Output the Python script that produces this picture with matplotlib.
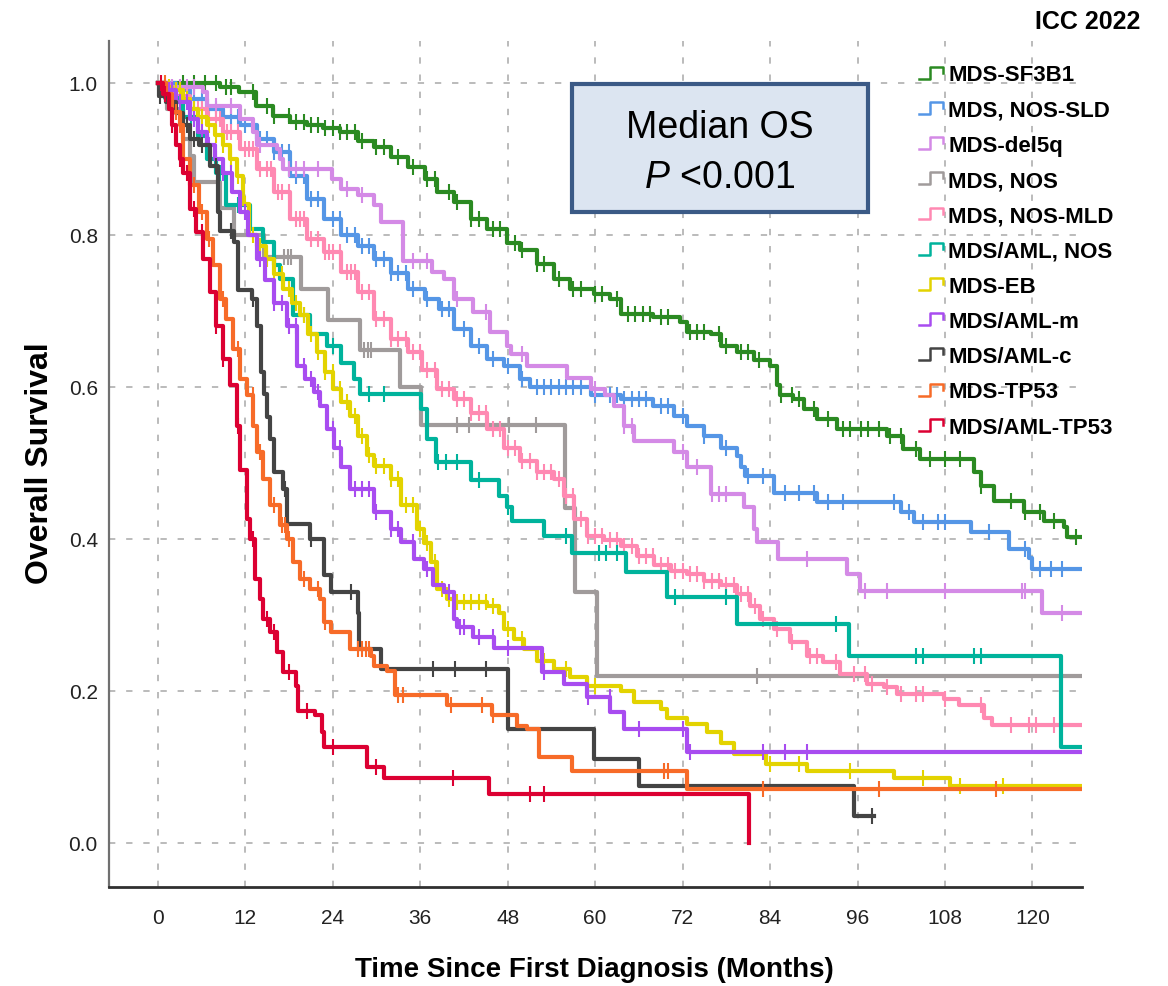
import numpy as np
import matplotlib
matplotlib.use("Agg")
import matplotlib.pyplot as plt
from matplotlib.lines import Line2D
from matplotlib.patches import Rectangle
from matplotlib.legend_handler import HandlerBase
from matplotlib import font_manager

plt.rcParams['font.family'] = ['Liberation Sans', 'DejaVu Sans']
plt.rcParams['mathtext.fontset'] = 'custom'
plt.rcParams['mathtext.it'] = 'Liberation Sans:italic'
plt.rcParams['mathtext.rm'] = 'Liberation Sans'

installed = {f.name for f in font_manager.fontManager.ttflist}
narrow = 'Liberation Sans Narrow' if 'Liberation Sans Narrow' in installed else 'Liberation Sans'

# Kaplan-Meier estimates: event times (months) and survival after each event
sf3b1_t = [8.5, 11.2, 13.5, 15.8, 18.1, 20.4, 22.7, 25, 27.4, 29.7, 32, 34.3, 36.6, 38.3, 40.6, 42.9,
           45.2, 47.9, 49.7, 52, 54.3, 56.6, 59.8, 62.1, 63.5, 68, 71.7, 72.6, 75.9, 77.2, 79.5, 81.8,
           84, 84.9, 85.4, 87.2, 88.6, 90.4, 93.2, 100, 102.3, 104.6, 112, 112.9, 114.7, 118.8, 121.6,
           124.3, 124.8]
sf3b1_s = [0.995, 0.988, 0.97, 0.957, 0.948, 0.944, 0.94, 0.935, 0.924, 0.915, 0.902, 0.889, 0.874,
           0.856, 0.843, 0.821, 0.808, 0.789, 0.78, 0.762, 0.742, 0.729, 0.722, 0.716, 0.696, 0.692,
           0.685, 0.672, 0.67, 0.654, 0.646, 0.635, 0.628, 0.602, 0.589, 0.584, 0.571, 0.558, 0.545,
           0.536, 0.518, 0.505, 0.488, 0.47, 0.45, 0.435, 0.424, 0.415, 0.402]
sf3b1_c = [3.4, 5, 6.5, 8, 9.4, 10, 13, 15, 16, 18, 19, 20, 21, 22, 23, 24, 25, 26, 27, 28, 30, 31,
           33, 35, 37, 38, 40, 41, 43, 44, 46, 47, 49, 50, 52, 53, 55, 57, 58, 60, 61, 63, 64.5, 65.5,
           66.5, 67.5, 69, 70, 73, 74, 75, 77, 78, 80, 81, 82.5, 85.5, 87, 88, 90, 92, 94, 95, 96.5,
           97.5, 99, 100.5, 102, 104, 106, 108, 110, 113, 117, 119, 121, 123, 126]

sld_t = [2.5, 4.4, 6.7, 9, 11.3, 13.6, 15.9, 18.1, 20.5, 22.8, 25.1, 27.4, 29.7, 32, 34.3, 36.6,
         38.6, 40.6, 42.9, 45.2, 47.5, 49.7, 51.1, 59.4, 63.5, 68, 70.8, 72.6, 74.9, 77.2, 79.5, 80,
         80.5, 84.5, 90.4, 101.9, 103.7, 111.5, 116.8, 119.5, 119.9]
sld_s = [0.99, 0.979, 0.966, 0.955, 0.944, 0.926, 0.909, 0.878, 0.847, 0.821, 0.8, 0.786, 0.768,
         0.75, 0.729, 0.716, 0.703, 0.676, 0.654, 0.637, 0.628, 0.61, 0.6, 0.589, 0.584, 0.575, 0.562,
         0.549, 0.535, 0.52, 0.509, 0.495, 0.483, 0.461, 0.448, 0.435, 0.422, 0.409, 0.387, 0.375, 0.36]
sld_c = [3, 4, 5, 6, 8, 9, 10, 11, 12, 13, 14, 15, 16, 17, 18, 19, 20, 21, 22, 24, 25, 26, 27, 28,
         29, 30, 31, 32, 33, 34, 35, 37, 39, 40, 42, 44, 46, 48, 50, 52, 53, 54, 55, 56, 57, 58, 60,
         62, 63, 64, 65, 66, 67, 69, 70, 72, 75, 78, 81, 83, 86, 88, 90, 92, 94, 101, 103, 105, 107,
         108, 114, 119, 121, 122.5, 124]

del5q_t = [1.5, 6.2, 6.7, 11.3, 13.1, 13.6, 16.3, 16.8, 17.2, 23.9, 25.1, 27.4, 29.7, 30.6, 33.6,
           37.6, 39.2, 40.6, 43.3, 45.6, 47.9, 48.4, 50.7, 56.2, 59.4, 61.4, 62.6, 63.9, 65.3, 70.8,
           72.6, 75.9, 80.4, 81.8, 82.2, 85.1, 94.5, 96.4, 121.3]
del5q_s = [0.995, 0.988, 0.97, 0.953, 0.935, 0.918, 0.913, 0.9, 0.887, 0.874, 0.86, 0.852, 0.839,
           0.817, 0.766, 0.751, 0.742, 0.716, 0.698, 0.672, 0.654, 0.643, 0.628, 0.612, 0.597, 0.589,
           0.575, 0.549, 0.529, 0.514, 0.494, 0.459, 0.442, 0.413, 0.396, 0.374, 0.354, 0.332, 0.303]
del5q_c = [2, 3, 4, 5, 8, 10, 14, 18, 19, 20, 22, 26, 28, 35, 37, 41, 45, 50, 60, 64, 65, 72, 74, 76,
           77, 78, 89, 97, 100, 108, 118.5, 119, 124]

nos_t = [1.2, 3.4, 4.4, 5.0, 8.6, 10.4, 14.6, 19.6, 23.3, 27.8, 33.2, 36.1, 55.8, 57.3, 60.3]
nos_s = [0.966, 0.926, 0.904, 0.869, 0.835, 0.8, 0.771, 0.729, 0.688, 0.648, 0.6, 0.55, 0.44, 0.33, 0.219]
nos_c = [17.3, 17.8, 18.3, 28.3, 28.8, 29.2, 41, 42.7, 48.2, 51.9, 82.2]

mld_t = [0.5, 2, 4.4, 6.7, 9, 11.3, 13.6, 15.9, 18.2, 20.5, 22.8, 25.1, 27.4, 29.7, 32, 34.3, 36.3,
         38.3, 40.6, 42.9, 45.2, 47.5, 49.7, 52, 54.3, 55.7, 57.1, 58.9, 61.2, 63.5, 65.8, 68.1, 70.4,
         72.6, 74.9, 77.2, 79.5, 81.3, 82.6, 84.5, 86.7, 89, 91.3, 93.6, 97.3, 99.6, 101.4, 107.8,
         109.9, 113.4, 114.5]
mld_s = [0.995, 0.983, 0.966, 0.953, 0.935, 0.913, 0.887, 0.856, 0.821, 0.795, 0.777, 0.751, 0.725,
         0.689, 0.663, 0.646, 0.622, 0.597, 0.584, 0.566, 0.545, 0.52, 0.503, 0.488, 0.479, 0.457,
         0.426, 0.404, 0.398, 0.391, 0.378, 0.365, 0.358, 0.354, 0.345, 0.339, 0.328, 0.312, 0.295,
         0.282, 0.264, 0.246, 0.238, 0.222, 0.209, 0.205, 0.196, 0.189, 0.181, 0.165, 0.155]
mld_c = [1, 2.5, 3, 4, 5, 5.5, 6, 7, 8, 8.5, 9.5, 10, 11, 12, 12.5, 13, 14, 15, 15.5, 16.5, 17, 18,
         19, 19.5, 20, 21, 22, 23, 23.5, 24, 25, 26, 26.5, 27, 28, 29, 30, 31, 32, 33, 34, 35, 36,
         37, 38, 39, 40, 41, 42, 43, 44, 45, 46, 47, 48, 49, 50, 51, 52, 53, 54, 55, 56, 57, 58, 59,
         60, 61, 62, 63, 64, 65, 66, 67, 68, 69, 70, 71, 72, 73, 74, 75, 76, 77, 78, 79, 80, 81, 82,
         83, 85, 87, 89.5, 90.5, 93, 95.5, 97, 98, 100, 102, 104, 105, 108, 113, 117, 119.5, 120.5, 123]

amlnos_t = [1.0, 3.5, 5.5, 6.7, 8, 9.4, 12.6, 14.5, 15.9, 16.8, 18.6, 20.9, 23.2, 25.1, 26.9, 27.8,
            36.1, 37, 38.1, 42.9, 46.8, 47.9, 48.6, 53, 56.8, 64.2, 69.9, 79.5, 94.8, 123.9]
amlnos_s = [0.98, 0.955, 0.93, 0.9, 0.882, 0.839, 0.808, 0.79, 0.76, 0.742, 0.694, 0.67, 0.654,
            0.632, 0.61, 0.591, 0.571, 0.532, 0.501, 0.477, 0.457, 0.442, 0.424, 0.404, 0.382,
            0.356, 0.323, 0.288, 0.246, 0.126]
amlnos_c = [1.5, 3, 4.5, 8.5, 11, 20, 24, 29, 31, 38.5, 39.5, 41, 44, 48, 56, 60.5, 61.5, 63, 71,
            78, 93, 104, 105, 112, 113]

eb_t = [1, 2, 3.4, 4.4, 5.5, 6.7, 7.8, 9, 9.9, 10.8, 11.7, 12.5, 13.6, 14.9, 16, 17.2, 18.4, 19.5,
        20.6, 21.8, 23, 24.1, 25.2, 26.4, 27.5, 28.7, 29.7, 32, 33.3, 35.6, 36.5, 37.5, 38.3, 39.7,
        40.6, 45.2, 46.8, 47.5, 48.8, 50.2, 52, 54.3, 56.6, 58.9, 63.5, 65.3, 69, 69.9, 72.6, 75.4,
        77.2, 79.1, 83.5, 89, 101, 108.7]
eb_s = [0.995, 0.99, 0.979, 0.966, 0.955, 0.944, 0.931, 0.918, 0.9, 0.878, 0.84, 0.8, 0.785, 0.768,
        0.748, 0.729, 0.71, 0.694, 0.67, 0.646, 0.62, 0.597, 0.58, 0.562, 0.536, 0.51, 0.496, 0.479,
        0.444, 0.413, 0.395, 0.37, 0.334, 0.321, 0.317, 0.312, 0.303, 0.282, 0.268, 0.255, 0.24,
        0.229, 0.218, 0.207, 0.2, 0.185, 0.176, 0.165, 0.157, 0.146, 0.132, 0.117, 0.104, 0.095,
        0.086, 0.075]
eb_c = [1.5, 2.5, 3, 4, 5, 6, 7, 8, 9, 10, 11, 12, 13, 14, 15, 16, 17, 18, 19, 20, 21, 22, 23, 24,
        25, 26, 27, 28, 29, 30, 31, 32, 33, 34, 35, 36, 37, 38, 39, 40, 41, 42, 43, 44, 45, 46, 48,
        50, 53, 56, 59, 60, 84, 88, 95, 105, 110, 116]

amlm_t = [1, 2.5, 4.4, 5.5, 6.7, 7.8, 9, 10.2, 11.3, 12.4, 13.6, 14.7, 15.9, 17.7, 19.1, 20.2, 21.4,
          22.3, 23.2, 24.2, 25.1, 26.4, 29.7, 32, 33.3, 35.2, 36.5, 37.8, 39.2, 40.6, 41, 43.3, 46.1,
          52.7, 55.7, 58.9, 62.1, 63.9, 72.6]
amlm_s = [0.99, 0.975, 0.953, 0.935, 0.918, 0.9, 0.882, 0.856, 0.83, 0.8, 0.768, 0.74, 0.711, 0.68,
          0.628, 0.61, 0.593, 0.575, 0.545, 0.52, 0.495, 0.466, 0.435, 0.413, 0.396, 0.374, 0.36,
          0.339, 0.33, 0.295, 0.284, 0.271, 0.257, 0.225, 0.209, 0.192, 0.172, 0.15, 0.119]
amlm_c = [1.5, 2, 3, 4, 5, 6, 7, 8, 9, 10, 12, 14, 16, 17, 18, 19, 20, 21, 22, 24, 25, 27, 28, 29,
          30, 32, 33, 35, 37, 40, 41.5, 42, 44, 46, 48, 53, 59, 62, 66, 72, 73, 83, 86, 89]

amlc_t = [0.2, 1.1, 2.5, 3.4, 4.4, 5.7, 7.1, 8.3, 8.6, 10.4, 11.0, 12.9, 13.6, 14.1, 14.6, 15.0,
          15.4, 15.9, 17.2, 17.7, 20.9, 22.8, 23.7, 27.4, 27.6, 30.6, 48.1, 59.8, 66, 95.5]
amlc_s = [0.983, 0.975, 0.96, 0.944, 0.926, 0.918, 0.891, 0.83, 0.805, 0.79, 0.727, 0.716, 0.68,
          0.62, 0.59, 0.56, 0.532, 0.488, 0.466, 0.42, 0.4, 0.352, 0.33, 0.303, 0.255, 0.229, 0.15,
          0.11, 0.075, 0.036]
amlc_c = [0.3, 4, 5, 6, 8, 10, 13, 17.5, 21, 26.5, 37.7, 40.8, 45, 98]

tp53_t = [1.1, 2, 3, 3.4, 4.4, 5.7, 6.7, 7.6, 8.5, 9.4, 10.3, 11.3, 12.2, 13.1, 13.6, 14.5, 15.4,
          16.8, 17.7, 18.6, 19.5, 20.9, 22.3, 22.8, 23.7, 26.4, 29.2, 29.7, 31.5, 32.6, 39.7, 45.8,
          49.3, 50.7, 52.3, 56.8, 72.6]
tp53_s = [0.985, 0.961, 0.944, 0.9, 0.865, 0.83, 0.795, 0.76, 0.716, 0.689, 0.65, 0.61, 0.589,
          0.549, 0.514, 0.479, 0.444, 0.418, 0.4, 0.369, 0.347, 0.334, 0.321, 0.29, 0.277, 0.255,
          0.246, 0.233, 0.226, 0.194, 0.181, 0.168, 0.154, 0.15, 0.113, 0.095, 0.071]
tp53_c = [1, 2.5, 3, 5, 6, 7, 9, 11, 13, 14, 16, 17, 17.5, 18, 20, 22, 23, 27.5, 28, 28.5, 29, 33,
          33.6, 40.2, 44.5, 46, 69.5, 70, 83, 99, 115]

amltp53_t = [0.7, 1.6, 2, 2.5, 3, 3.4, 4.4, 5.3, 6.2, 7.1, 8, 9, 9.9, 10.8, 11.3, 12.2, 12.6, 13.3,
             14, 14.5, 15.4, 16.3, 17.2, 18.9, 19.3, 21.6, 22.5, 22.8, 28.7, 31, 45.4, 81.1]
amltp53_s = [0.985, 0.966, 0.944, 0.918, 0.9, 0.882, 0.834, 0.804, 0.768, 0.725, 0.68, 0.637, 0.602,
             0.549, 0.49, 0.426, 0.4, 0.347, 0.321, 0.295, 0.277, 0.251, 0.225, 0.207, 0.174, 0.168,
             0.146, 0.126, 0.1, 0.086, 0.064, 0.0]
amltp53_c = [0.5, 1, 2, 3, 4, 5, 6, 8, 9, 11, 13, 15, 16, 18, 20.5, 24, 30, 40.5, 51, 53]

groups = [
    ("MDS-SF3B1", sf3b1_t, sf3b1_s, sf3b1_c, 127.0, "#2b8a22"),
    ("MDS, NOS-SLD", sld_t, sld_s, sld_c, 127.0, "#5596e6"),
    ("MDS-del5q", del5q_t, del5q_s, del5q_c, 127.0, "#d48ae6"),
    ("MDS, NOS", nos_t, nos_s, nos_c, 127.0, "#a09b9b"),
    ("MDS, NOS-MLD", mld_t, mld_s, mld_c, 127.0, "#ff89b2"),
    ("MDS/AML, NOS", amlnos_t, amlnos_s, amlnos_c, 127.0, "#00b39c"),
    ("MDS-EB", eb_t, eb_s, eb_c, 127.0, "#e3d300"),
    ("MDS/AML-m", amlm_t, amlm_s, amlm_c, 127.0, "#a84cf0"),
    ("MDS/AML-c", amlc_t, amlc_s, amlc_c, 98.2, "#444444"),
    ("MDS-TP53", tp53_t, tp53_s, tp53_c, 127.0, "#f76b28"),
    ("MDS/AML-TP53", amltp53_t, amltp53_s, amltp53_c, 81.1, "#dc0032"),
]


class StepHandler(HandlerBase):
    # small step glyph like the SPSS legend swatch
    def create_artists(self, legend, orig, xd, yd, w, h, fontsize, trans):
        x0, y0 = -xd, -yd
        xs = [x0, x0 + 0.45 * w, x0 + 0.45 * w, x0 + w, x0 + w]
        ys = [y0 + 0.15 * h, y0 + 0.15 * h, y0 + 0.85 * h, y0 + 0.85 * h, y0 + 0.5 * h]
        return [Line2D(xs, ys, color=orig.get_color(), lw=1.8, transform=trans)]


fig = plt.figure(figsize=(11.68, 9.87), dpi=100)
ax = fig.add_axes([0.0933, 0.1003, 0.8331, 0.8571])

handles = []
for name, t, s, c, end, col in groups:
    tt = np.concatenate([[0.0], t, [end]])
    ss = np.concatenate([[1.0], s, [s[-1]]])
    ax.step(tt, ss, where='post', color=col, lw=3.0, zorder=3)
    cc = np.asarray(c, dtype=float)
    idx = np.searchsorted(tt, cc, side='right') - 1
    ax.plot(cc, ss[idx], ls='none', marker='|', ms=11, mew=1.5, color=col, zorder=3)
    handles.append(Line2D([], [], color=col, label=name))

ax.set_xlim(-6.7, 126.8)
ax.set_ylim(-0.058, 1.055)
ax.set_xticks(np.arange(0, 121, 12))
ax.set_yticks([0.0, 0.2, 0.4, 0.6, 0.8, 1.0])
ax.set_yticklabels(['0.0', '0.2', '0.4', '0.6', '0.8', '1.0'])
ax.grid(True, color='#b5b5b5', ls=(0, (3.5, 6)), lw=1.3, zorder=1)
ax.set_axisbelow(True)
for side in ('top', 'right'):
    ax.spines[side].set_visible(False)
ax.spines['left'].set_color('#707070')
ax.spines['left'].set_linewidth(1.6)
ax.spines['bottom'].set_color('#303030')
ax.spines['bottom'].set_linewidth(2.0)
ax.tick_params(length=0, labelsize=15, colors='#222222')
ax.tick_params(axis='x', pad=15)
ax.tick_params(axis='y', pad=8)
for lab in ax.get_xticklabels() + ax.get_yticklabels():
    lab.set_family(narrow)

fig.text(0.034, 0.531, 'Overall Survival', rotation=90, ha='center', va='center',
         fontsize=23, fontweight='bold')
fig.text(0.509, 0.017, 'Time Since First Diagnosis (Months)', ha='center', va='center',
         fontsize=20, fontweight='bold', family=[narrow, 'DejaVu Sans'])
fig.text(0.976, 0.978, 'ICC 2022', ha='right', va='center', fontsize=18, fontweight='bold')

box = Rectangle((0.4897, 0.7842), 0.2534, 0.1297, transform=fig.transFigure,
                facecolor='#dce5f1', edgecolor='#3b5a86', lw=3, zorder=5)
fig.patches.append(box)
fig.text(0.6164, 0.870, 'Median OS', ha='center', va='center', fontsize=27, zorder=6)
fig.text(0.6164, 0.8197, r'$\mathit{P}$ <0.001', ha='center', va='center', fontsize=27, zorder=6)

fig.legend(handles=handles, loc='upper left', bbox_to_anchor=(0.787, 0.934),
           frameon=False, handler_map={Line2D: StepHandler()},
           prop={'weight': 'bold', 'size': 16}, handlelength=1.05, handleheight=0.8,
           handletextpad=0.25, labelspacing=0.63, borderpad=0, borderaxespad=0)

fig.savefig('out.png', dpi=100)
